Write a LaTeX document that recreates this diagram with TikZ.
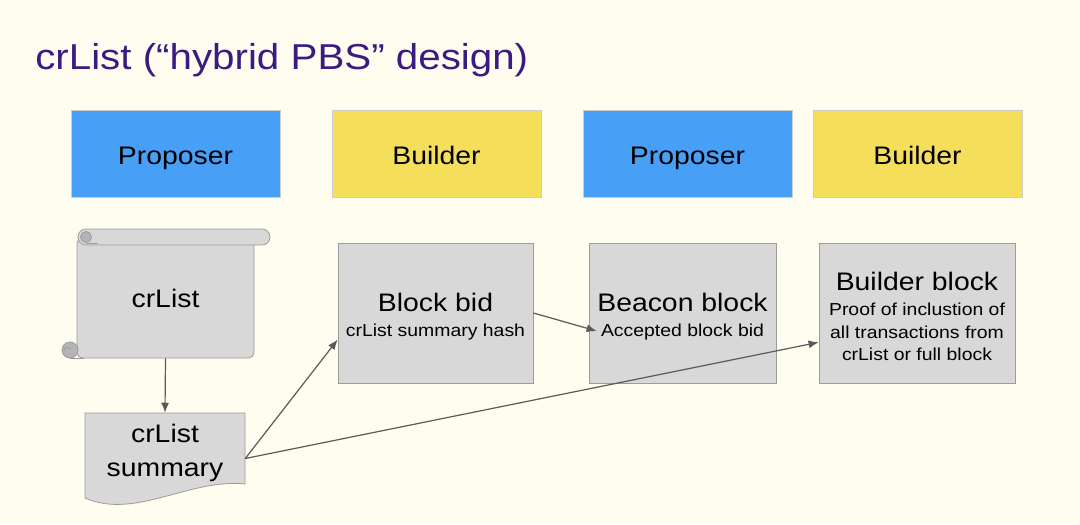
\documentclass[tikz,border=0pt]{standalone}
\usepackage{fontspec}
\setmainfont{Liberation Sans}[FakeStretch=1.12]
\usetikzlibrary{positioning,arrows.meta}

\definecolor{bgcream}{HTML}{FEFDEF}
\definecolor{titlepurple}{HTML}{3A1B82}
\definecolor{roleblue}{HTML}{489FF6}
\definecolor{roleyellow}{HTML}{F5DE5A}
\definecolor{boxgray}{HTML}{D8D8D8}
\definecolor{curlgray}{HTML}{B4B4B4}
\definecolor{edgegray}{HTML}{9C9C9C}
\definecolor{arrowgray}{HTML}{5A5A5A}

\newcommand{\bigtext}{\fontsize{19}{22}\selectfont}
\newcommand{\smalltext}{\fontsize{13}{17}\selectfont}
\newcommand{\blocktitle}[1]{{\bigtext\rule{0pt}{19pt}#1}}

\begin{document}
\begin{tikzpicture}[x=0.75pt,y=-0.75pt,
    role/.style={draw=black!20, line width=0.5pt, minimum width=156.75pt,
      minimum height=65.25pt, inner sep=0pt, text height=18pt, text depth=1pt,
      font=\bigtext},
    block/.style={draw=edgegray, fill=boxgray, line width=0.6pt,
      minimum height=105pt, inner sep=0pt, align=center, font=\smalltext},
    outline/.style={draw=edgegray, fill=boxgray, line width=0.6pt},
    link/.style={draw=arrowgray, line width=0.9pt, -{Latex[length=7.5pt,width=6pt]}}]
  % page
  \fill[bgcream] (0,0) rectangle (1080,524);
  \node[anchor=base west, inner sep=0pt, text=titlepurple,
    font=\fontsize{27}{30}\selectfont] (title) at (35,70) {crList (“hybrid PBS” design)};

  % roles
  \node[role, fill=roleblue] (prop1) at (175.5,153.5) {Proposer};
  \node[role, fill=roleyellow] (build1) at (436.5,153.5) {Builder};
  \node[role, fill=roleblue] (prop2) at (687.5,153.5) {Proposer};
  \node[role, fill=roleyellow] (build2) at (917.5,153.5) {Builder};

  % crList scroll
  \node[outline, rounded corners=4pt, minimum width=132.75pt, minimum height=90pt,
    inner sep=0pt, font=\bigtext] (crlist) at (165.5,298) {crList};
  \draw[outline, rounded corners=5.9pt] (78,229) rectangle (270,245);
  \draw[outline, fill=curlgray] (86,237) circle (5.5);
  \draw[edgegray, line width=0.6pt] (86,243) -- (98,243);
  \draw[outline, fill=curlgray] (70,350) circle (8);
  \draw[edgegray, line width=0.6pt] (70,358) -- (84,358);
  \draw[edgegray, line width=0.5pt] (70,350) arc[start angle=0, end angle=-200, radius=3];

  % summary (document with wavy foot)
  \draw[outline] (85,413) -- (245,413) -- (245,484)
    .. controls (190,478) and (135,520) .. (85,498) -- cycle;
  \node[minimum width=120pt, minimum height=59.25pt, inner sep=0pt, align=center,
    font=\fontsize{19}{25.5}\selectfont] (summary) at (165,452.5) {crList\\summary};

  % blocks
  \node[block, minimum width=146.25pt] (bid) at (435.5,313)
    {\blocktitle{Block bid}\\[2pt]crList summary hash};
  \node[block, minimum width=140.25pt] (beacon) at (682.5,313)
    {\blocktitle{Beacon block}\\[2pt]Accepted block bid};
  \node[block, minimum width=147pt] (builderblk) at (917,313)
    {\blocktitle{Builder block}\\[2pt]Proof of inclustion of\\all transactions from\\crList or full block};

  % arrows
  \draw[link] (crlist.south) -- (summary.north);
  \draw[link] ([yshift=-4.5pt]summary.east) -- ([yshift=-20pt]bid.west);
  \draw[link] ([yshift=-4.5pt]summary.east) -- ([yshift=-22pt]builderblk.west);
  \draw[link] (bid.east) -- ([xshift=6pt,yshift=-13.5pt]beacon.west);
\end{tikzpicture}
\end{document}
